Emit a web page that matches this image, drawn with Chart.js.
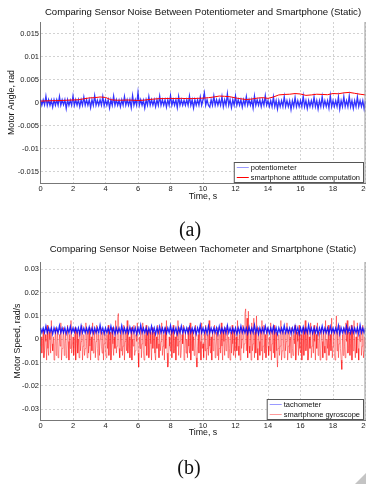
<!DOCTYPE html>
<html>
<head>
<meta charset="utf-8">
<script src="https://cdn.jsdelivr.net/npm/chart.js@4"></script>
<style>
  html, body { margin:0; padding:0; background:#fff; }
  body { width:366px; height:484px; position:relative; overflow:hidden; }
  canvas { position:absolute; left:0; }
  #cA { top:0; }
  #cB { top:236px; }
  .cap { position:absolute; font-family:'Liberation Serif','Times New Roman',serif; font-size:20px; color:#111; transform:translate(-50%,-50%); }
  .fold { position:absolute; right:0; bottom:0; width:0; height:0; border-left:11px solid transparent; border-bottom:11px solid #c4c4c4; }
</style>
</head>
<body>
<canvas id="cA" width="366" height="202"></canvas>
<canvas id="cB" width="366" height="202"></canvas>
<div class="cap" style="left:190px; top:229px;">(a)</div>
<div class="cap" style="left:189px; top:467px;">(b)</div>
<div class="fold"></div>
<script>
// ── Data (values in milli-units, converted to rad / rad/s below) ──────────
const xTicks  = [0, 2, 4, 6, 8, 10, 12, 14, 16, 18, 20];
const yTicksA = [-0.015, -0.01, -0.005, 0, 0.005, 0.01, 0.015];
const yTicksB = [-0.03, -0.02, -0.01, 0, 0.01, 0.02, 0.03];
const duration = 20; // s

// (a) potentiometer, mrad, 12 samples per second
const potentiometer = [
  0.6,-0.6,0.6,-0.5,1.4,-0.6,0.6,-0.6,0.5,-1.0,0.6,-0.6,
  0.6,-0.6,1.3,-0.6,0.6,-0.5,0.6,-1.3,0.6,-0.6,0.5,-0.6,
  1.4,-0.6,0.6,-0.6,0.6,-0.9,0.6,-0.6,1.2,-0.6,0.6,-0.6,
  0.6,-1.1,0.6,-0.6,1.5,-0.6,0.5,-0.6,0.6,-0.6,1.3,-0.7,
  0.6,-0.6,0.6,-1.2,0.6,-0.6,1.4,-0.6,0.6,-0.6,0.5,-0.9,
  0.6,-0.6,1.3,-0.6,0.6,-0.6,0.6,-1.1,1.5,-0.6,0.6,-0.6,
  2.2,-0.6,0.6,-0.6,0.5,-1.2,0.6,-0.6,1.3,-0.6,0.6,-0.6,
  0.6,-0.9,0.6,-0.6,1.4,-0.6,0.6,-0.6,0.6,-1.0,0.6,-0.6,
  1.5,-0.6,0.6,-0.6,0.6,-1.1,1.3,-0.6,0.6,-0.6,0.5,-0.6,
  0.6,-0.6,1.4,-0.6,0.6,-1.2,0.6,-0.6,0.6,-0.6,1.2,-0.6,
  0.6,2.1,-0.6,0.6,-0.6,-1.0,0.6,-0.6,1.4,-0.6,0.6,-0.6,
  0.6,-0.6,1.3,-0.9,0.6,-0.6,1.9,-0.6,0.6,-1.1,0.6,-0.6,
  1.4,-0.6,0.6,-0.6,0.6,-1.0,0.6,-0.6,1.3,-0.6,0.6,-0.6,
  0.6,-1.2,1.4,-0.6,0.6,-0.6,0.6,-0.9,0.6,-0.6,1.5,-0.6,
  0.4,-0.9,0.4,-0.9,1.2,-0.9,0.4,-1.4,0.4,-0.9,0.4,-0.9,
  1.3,-0.9,0.4,-0.9,0.4,-1.5,0.4,-0.9,1.1,-0.9,0.4,-0.9,
  0.4,-0.9,1.4,-0.9,0.4,-1.3,0.4,-0.9,0.4,-0.9,1.2,-0.9,
  0.4,-1.4,0.4,-0.9,1.3,-0.9,0.4,-0.9,0.4,-1.2,1.5,-0.9,
  0.4,-0.9,0.4,-0.9,1.2,-1.4,0.4,-0.9,1.3,-0.9,0.4,-0.9,
  1.4,-0.9,0.4,-1.3,0.4,-0.9,1.2,-0.9,0.4,-0.9,0.4,-1.4,
  0.4
];

// (a) smartphone attitude, mrad, 3 samples per second
const attitude = [
  0.3,0.35,0.4,0.4,0.45,0.5,0.55,0.6,0.8,1.0,1.05,1.2,1.1,0.6,0.5,0.5,
  0.55,0.5,0.45,0.5,0.65,0.75,0.85,0.85,0.9,0.85,0.9,0.85,0.85,0.9,0.95,
  1.05,1.2,1.4,1.35,1.25,1.0,0.8,0.65,0.75,0.95,1.05,0.9,1.2,1.65,1.75,
  1.8,1.95,1.85,1.55,1.65,1.8,1.75,1.7,1.95,1.9,2.1,2.2,2.0,1.8,1.65
];

// (b) tachometer, mrad/s, 12 samples per second
const tachometer = [
  4.8,2.8,4.8,2.8,5.6,2.8,4.8,3.0,4.8,2.2,4.8,2.8,
  4.8,2.8,5.8,2.8,4.8,2.8,4.8,2.4,4.8,2.8,5.4,2.8,
  4.8,3.0,4.8,2.8,4.8,2.2,5.6,2.8,4.8,2.8,4.8,2.8,
  5.2,2.8,4.8,2.6,4.8,2.8,4.8,2.8,6.0,2.8,4.8,2.4,
  4.8,2.8,4.8,2.8,5.6,2.8,4.8,2.2,4.8,2.8,4.8,2.8,
  5.8,2.8,4.8,2.8,4.8,2.6,5.2,2.8,4.8,2.8,4.8,2.2,
  4.8,2.8,6.0,2.8,4.8,2.8,4.8,2.4,4.8,2.8,5.6,2.8,
  4.8,2.2,4.8,2.8,5.4,2.8,4.8,2.8,4.8,2.6,4.8,2.8,
  5.8,2.8,4.8,2.8,4.8,2.2,4.8,2.8,5.6,2.8,4.8,2.8,
  4.8,2.6,5.2,2.8,4.8,2.8,4.8,2.2,4.8,2.8,6.0,2.8,
  4.8,2.8,4.8,2.4,5.6,2.8,4.8,2.8,4.8,2.8,4.8,2.2,
  5.4,2.8,4.8,2.8,4.8,2.6,5.8,2.8,4.8,2.8,4.8,2.8,
  4.8,2.2,4.8,2.8,5.6,2.8,4.8,2.8,4.8,2.4,5.2,2.8,
  4.8,2.8,6.0,2.8,4.8,2.2,4.8,2.8,4.8,2.8,5.6,2.8,
  4.8,2.6,4.8,2.8,5.4,2.8,4.8,2.2,4.8,2.8,4.8,2.8,
  5.8,2.8,4.8,2.8,4.8,2.4,4.8,2.8,5.6,2.8,4.8,2.2,
  4.8,2.8,5.2,2.8,4.8,2.8,6.0,2.8,4.8,2.6,4.8,2.8,
  4.8,2.2,4.8,2.8,5.6,2.8,4.8,2.8,4.8,2.4,5.4,2.8,
  4.8,2.8,4.8,2.8,5.8,2.2,4.8,2.8,4.8,2.8,5.6,2.8,
  4.8,2.6,5.2,2.8,4.8,2.8,4.8,2.2,6.0,2.8,4.8,2.8,
  4.8
];

// (b) smartphone gyroscope, mrad/s, 24 samples per second
const gyroscope = [
  -3,1,-6,-2,4,-8,-5,2,-1,-9,6,-4,-7,3,0,-6,8,-2,-5,1,-9,-3,5,-7,
  -1,4,-8,-6,2,-3,7,-9,-4,0,5,-7,-2,3,-8,-5,6,-1,-9,2,-4,8,-6,-3,
  1,-7,-4,5,-9,-2,3,-6,0,-8,4,-5,-1,6,-9,-3,2,-7,-4,7,-2,-8,3,-6,
  5,-3,-9,1,-5,7,-6,-2,4,-8,-1,6,-4,-9,2,-7,0,5,-3,-6,3,-9,-2,4,
  -5,-8,2,-4,6,-7,-1,3,-9,-5,5,-2,-7,1,-4,8,-6,-3,9,11,-4,-8,2,-5,
  4,-7,-3,6,-9,-1,3,-5,8,-6,-2,1,-8,-4,5,-9,0,-3,6,-7,-5,2,-1,7,
  -6,-12,1,-4,5,-8,-2,7,-5,-9,2,-3,6,-7,-1,4,-8,-5,3,-2,-9,5,-4,0,
  3,-6,-9,1,-4,6,-2,-8,4,-5,-1,7,-7,-3,2,-9,5,-4,8,-6,-12,-10,1,-3,
  -5,4,-8,-2,6,-6,-4,1,-9,3,-3,8,-7,-1,5,-8,-5,2,-2,6,-9,-4,3,-6,
  0,-8,5,-3,-6,7,-9,-2,4,-5,1,-7,-4,6,-8,-12,-3,2,-6,5,-1,-9,7,-4,
  -2,-8,3,-5,6,-9,-4,2,-7,8,-3,-6,1,-9,4,-5,-1,6,-8,-3,3,-7,5,-9,
  -4,2,-6,7,-3,-9,4,-1,-7,5,-5,-2,6,-8,1,-4,-9,3,-6,6,-2,-7,4,-5,
  -8,1,-5,8,-3,-7,2,-9,5,-4,0,6,-6,-2,11,13,-5,9,-8,12,-3,-6,4,-9,
  7,-5,-2,9,-8,3,-6,10,-4,-9,5,-1,-7,4,-5,8,-9,-3,6,-6,2,-8,-4,5,
  -3,-7,1,-5,7,-9,-2,4,-6,6,-8,-1,3,-5,-12,-4,2,-7,-3,8,-9,-5,4,-2,
  -8,3,-5,-1,7,-9,-3,4,-6,1,-8,5,-4,-7,2,-2,6,-9,-5,3,-1,-7,6,-4,
  -6,2,-9,-3,5,-7,0,8,-5,-2,4,-9,-6,1,-4,7,-8,-3,3,-6,6,-1,-9,2,
  -4,7,-7,-2,3,-9,-5,5,-1,-8,4,-3,-6,8,-9,0,-4,6,-7,-2,2,-5,9,-8,
  -3,4,-6,-9,1,10,-5,3,-8,-2,6,-4,-9,-13,2,-7,5,-3,-8,7,-1,8,-6,-4,
  3,-7,-2,6,-9,4,-5,8,-3,-8,1,-6,7,-4,-9,2,-1,5,-7,-3,6,-8,-5,1,
  -4
];

// ── Helpers ──────────────────────────────────────────────────────────────
Chart.defaults.font.family = "'Liberation Sans', Arial, sans-serif";
Chart.defaults.color = '#222';

const points = vals => vals.map((v, i) => ({ x: i * duration / (vals.length - 1), y: v / 1000 }));
const fmt = v => String(+v.toFixed(4));

// legend drawn inside the plot, bottom-right, like MATLAB's 'Location','SouthEast'
const boxLegend = {
  id: 'boxLegend',
  afterDatasetsDraw(chart) {
    const { ctx, chartArea: a } = chart;
    ctx.save();
    // right frame edge
    ctx.strokeStyle = '#999'; ctx.lineWidth = 1;
    ctx.beginPath(); ctx.moveTo(a.right - 0.5, a.top); ctx.lineTo(a.right - 0.5, a.bottom); ctx.stroke();

    ctx.font = "7.5px 'Liberation Sans', Arial, sans-serif";
    const items = chart.data.datasets.map(d => ({ text: d.label, color: d.legendColor || d.borderColor }));
    const tw = Math.max(...items.map(it => ctx.measureText(it.text).width));
    const w = 17 + tw + 3, h = 20;
    const x0 = a.right - 2.5 - w, y0 = a.bottom - 1 - h;
    ctx.fillStyle = '#fff';
    ctx.fillRect(x0, y0, w, h);
    ctx.strokeStyle = '#555';
    ctx.strokeRect(x0 + 0.5, y0 + 0.5, w, h);
    items.forEach((it, i) => {
      const y = y0 + 5 + i * 10;
      ctx.strokeStyle = it.color; ctx.lineWidth = 1;
      ctx.beginPath(); ctx.moveTo(x0 + 3, y + 0.5); ctx.lineTo(x0 + 15, y + 0.5); ctx.stroke();
      ctx.fillStyle = '#111'; ctx.textBaseline = 'middle'; ctx.textAlign = 'left';
      ctx.fillText(it.text, x0 + 17, y + 0.5);
    });
    ctx.restore();
  }
};

function makeChart(id, cfg) {
  const tickFont = { size: 7.5 };
  return new Chart(document.getElementById(id), {
    type: 'line',
    data: { datasets: cfg.datasets },
    options: {
      responsive: false, animation: false, events: [],
      layout: { padding: { top: 0, left: 0, right: 0.5, bottom: 0 } },
      elements: { point: { radius: 0 }, line: { tension: 0, borderWidth: 1 } },
      plugins: {
        legend: { display: false }, tooltip: { enabled: false },
        title: { display: true, text: cfg.title, fullSize: false, color: '#111',
                 font: { size: 9.6, weight: 'normal' }, padding: cfg.titlePad },
      },
      scales: {
        x: {
          type: 'linear', min: 0, max: 20,
          afterBuildTicks: s => { s.ticks = xTicks.map(v => ({ value: v })); },
          afterFit: s => { s.height = cfg.xHeight; s.paddingLeft = 0; s.paddingRight = 0; },
          ticks: { font: tickFont, padding: 1.5, maxRotation: 0, autoSkip: false },
          grid: { color: '#d2d2d2', drawTicks: false },
          border: { color: '#777', dash: [2, 2] },
          title: { display: true, text: 'Time, s', color: '#111', font: { size: 8.8 }, padding: 0 },
        },
        y: {
          type: 'linear', min: cfg.yMin, max: cfg.yMax,
          afterBuildTicks: s => { s.ticks = cfg.yTicks.map(v => ({ value: v })); },
          afterFit: s => { s.width = 40.5; s.paddingTop = 0; s.paddingBottom = 0; },
          ticks: { font: tickFont, padding: 1.5, callback: fmt },
          grid: { color: '#d2d2d2', drawTicks: false },
          border: { color: '#777', dash: [2, 2] },
          title: { display: true, text: cfg.yTitle, color: '#111', font: { size: 8.8 },
                   padding: { top: cfg.yTitlePad, bottom: 0 } },
        },
      },
    },
    plugins: [boxLegend],
  });
}

// ── (a) ──────────────────────────────────────────────────────────────────
makeChart('cA', {
  title: 'Comparing Sensor Noise Between Potentiometer and Smartphone (Static)',
  titlePad: { top: 6.5, bottom: 4 },
  yTitle: 'Motor Angle, rad', yTitlePad: 6.7,
  yMin: -0.0175, yMax: 0.0175, yTicks: yTicksA, xHeight: 19,
  datasets: [
    { label: 'potentiometer', data: points(potentiometer), borderColor: 'rgba(0,0,255,0.8)',
      borderWidth: 1.3, legendColor: '#9a9aff', order: 2 },
    { label: 'smartphone attitude computation', data: points(attitude), borderColor: '#ff0000',
      order: 1 },
  ],
});

// ── (b) ──────────────────────────────────────────────────────────────────
makeChart('cB', {
  title: 'Comparing Sensor Noise Between Tachometer and Smartphone (Static)',
  titlePad: { top: 7.2, bottom: 7.3 },
  yTitle: 'Motor Speed, rad/s', yTitlePad: 12.7,
  yMin: -0.0347, yMax: 0.0331, yTicks: yTicksB, xHeight: 18,
  datasets: [
    { label: 'tachometer', data: points(tachometer), borderColor: 'rgba(0,0,255,0.85)',
      borderWidth: 1.3, legendColor: '#9a9aff', order: 1 },
    { label: 'smartphone gyroscope', data: points(gyroscope), borderColor: 'rgba(255,0,0,0.5)',
      borderWidth: 0.9, legendColor: '#ff9a9a', order: 2 },
  ],
});
</script>
</body>
</html>
